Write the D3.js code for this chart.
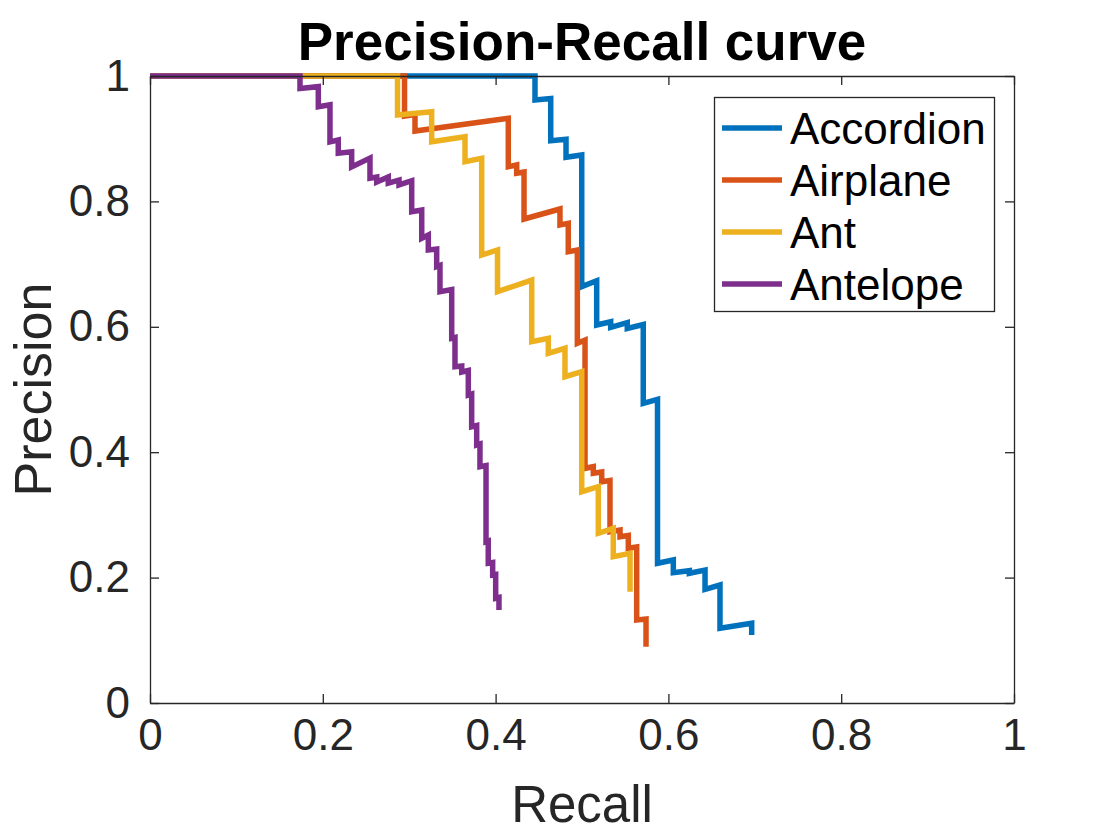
<!DOCTYPE html>
<html>
<head>
<meta charset="utf-8">
<script src="https://cdn.jsdelivr.net/npm/d3@7"></script>
<style>
    body { margin: 0; background: #fff; }
    text { font-family: "Liberation Sans", Arial, Helvetica, sans-serif; }
</style>
</head>
<body>
<div id="chart-area"></div>
<script>
// class names and line colours (matlab default order)
var classNames = ["Accordion", "Airplane", "Ant", "Antelope"];
var classColors = ["#0072BD", "#D95319", "#EDB120", "#7E2F8E"];

var xTicks = [0, 0.2, 0.4, 0.6, 0.8, 1];
var yTicks = [0, 0.2, 0.4, 0.6, 0.8, 1];

// recall / precision
var accordionRecall = [0, 0.4456, 0.4456, 0.4638, 0.4638, 0.4815, 0.4815, 0.4997, 0.4997, 0.5170, 0.5170, 0.5332, 0.5332, 0.5524, 0.5524, 0.5709, 0.5709, 0.5874, 0.5874, 0.6057, 0.6057, 0.6242, 0.6242, 0.6424, 0.6424, 0.6597, 0.6597, 0.6964, 0.6964];
var accordionPrecision = [1, 1, 0.9617, 0.9641, 0.8968, 0.8990, 0.8703, 0.8740, 0.6640, 0.6735, 0.6029, 0.6081, 0.5992, 0.6065, 0.5973, 0.6037, 0.4780, 0.4844, 0.2228, 0.2281, 0.2078, 0.2110, 0.2069, 0.2121, 0.1813, 0.1882, 0.1191, 0.1271, 0.1085];

var airplaneRecall = [0, 0.2946, 0.2946, 0.3067, 0.3067, 0.4147, 0.4147, 0.4244, 0.4244, 0.4329, 0.4329, 0.4745, 0.4745, 0.4841, 0.4841, 0.4946, 0.4946, 0.5035, 0.5035, 0.5131, 0.5131, 0.5228, 0.5228, 0.5324, 0.5324, 0.5440, 0.5440, 0.5536, 0.5536, 0.5633, 0.5633, 0.5741, 0.5741];
var airplanePrecision = [1, 1, 0.9362, 0.9386, 0.9123, 0.9325, 0.8553, 0.8581, 0.8448, 0.8469, 0.7719, 0.7879, 0.7624, 0.7651, 0.7198, 0.7225, 0.5737, 0.5789, 0.3743, 0.3769, 0.3664, 0.3684, 0.3529, 0.3549, 0.2732, 0.2759, 0.2652, 0.2671, 0.2467, 0.2488, 0.1324, 0.1340, 0.0898];

var antRecall = [0, 0.2865, 0.2865, 0.3260, 0.3260, 0.3646, 0.3646, 0.3839, 0.3839, 0.4022, 0.4022, 0.4418, 0.4418, 0.4610, 0.4610, 0.4803, 0.4803, 0.4997, 0.4997, 0.5189, 0.5189, 0.5362, 0.5362, 0.5556, 0.5556];
var antPrecision = [1, 1, 0.9378, 0.9431, 0.8952, 0.9032, 0.8633, 0.8687, 0.7145, 0.7225, 0.6560, 0.6746, 0.5762, 0.5817, 0.5577, 0.5657, 0.5204, 0.5284, 0.3370, 0.3450, 0.2707, 0.2786, 0.2333, 0.2388, 0.1775];

var antelopeRecall = [0, 0.1736, 0.1736, 0.1948, 0.1948, 0.2083, 0.2083, 0.2179, 0.2179, 0.2334, 0.2334, 0.2546, 0.2546, 0.2624, 0.2624, 0.2758, 0.2758, 0.2882, 0.2882, 0.3029, 0.3029, 0.3145, 0.3145, 0.3221, 0.3221, 0.3318, 0.3318, 0.3356, 0.3356, 0.3492, 0.3492, 0.3530, 0.3530, 0.3608, 0.3608, 0.3684, 0.3684, 0.3723, 0.3723, 0.3781, 0.3781, 0.3819, 0.3819, 0.3889, 0.3889, 0.3915, 0.3915, 0.3966, 0.3966, 0.4001, 0.4001, 0.4039, 0.4039];
var antelopePrecision = [1, 1, 0.9800, 0.9830, 0.9510, 0.9540, 0.8950, 0.8980, 0.8770, 0.8790, 0.8550, 0.8690, 0.8370, 0.8389, 0.8309, 0.8389, 0.8293, 0.8341, 0.8262, 0.8330, 0.7836, 0.7863, 0.7411, 0.7464, 0.7225, 0.7241, 0.6959, 0.6978, 0.6560, 0.6595, 0.5817, 0.5829, 0.5364, 0.5375, 0.5279, 0.5303, 0.4912, 0.4928, 0.4407, 0.4426, 0.4115, 0.4131, 0.3769, 0.3788, 0.2573, 0.2584, 0.2228, 0.2241, 0.2041, 0.2049, 0.1670, 0.1683, 0.1483];

var recallLists = [accordionRecall, airplaneRecall, antRecall, antelopeRecall];
var precisionLists = [accordionPrecision, airplanePrecision, antPrecision, antelopePrecision];

// build series table from the arrays
var series = classNames.map(function (name, i) {
    return {
        name: name,
        color: classColors[i],
        points: recallLists[i].map(function (r, j) {
            return { recall: r, precision: precisionLists[i][j] };
        })
    };
});

var margin = { left: 150, right: 106, top: 76, bottom: 137 };
var width = 1120 - margin.left - margin.right;
var height = 840 - margin.top - margin.bottom;
var axisColor = "#262626";

var svg = d3.select("#chart-area").append("svg")
    .attr("width", 1120)
    .attr("height", 840);

var group = svg.append("g")
    .attr("transform", "translate(" + margin.left + "," + margin.top + ")");

var x = d3.scaleLinear().domain([0, 1]).range([0, width]);
var y = d3.scaleLinear().domain([0, 1]).range([height, 0]);

var line = d3.line()
    .x(function (d) { return x(d.recall); })
    .y(function (d) { return y(d.precision); });

// curves (no clipping, the thick top line sits on the box edge like matlab)
group.append("g")
    .selectAll("path")
    .data(series)
    .enter()
    .append("path")
    .attr("d", function (d) { return line(d.points); })
    .attr("fill", "none")
    .attr("stroke", function (d) { return d.color; })
    .attr("stroke-width", 5.5)
    .attr("stroke-linejoin", "miter");

// axes, ticks inside, box on
var tickLen = 9;
var xAxisCall = d3.axisBottom(x).tickValues(xTicks).tickSizeInner(-tickLen).tickSizeOuter(0).tickPadding(16)
    .tickFormat(function (d) { return d3.format("")(d); });
var yAxisCall = d3.axisLeft(y).tickValues(yTicks).tickSizeInner(-tickLen).tickSizeOuter(0).tickPadding(20)
    .tickFormat(function (d) { return d3.format("")(d); });
var xTopCall = d3.axisTop(x).tickValues(xTicks).tickSizeInner(-tickLen).tickSizeOuter(0).tickFormat("");
var yRightCall = d3.axisRight(y).tickValues(yTicks).tickSizeInner(-tickLen).tickSizeOuter(0).tickFormat("");

var xAxisG = group.append("g")
    .attr("class", "x-axis")
    .attr("transform", "translate(0," + height + ")")
    .call(xAxisCall);
var yAxisG = group.append("g")
    .attr("class", "y-axis")
    .call(yAxisCall);
var topG = group.append("g").call(xTopCall);
var rightG = group.append("g").attr("transform", "translate(" + width + ",0)").call(yRightCall);

[xAxisG, yAxisG, topG, rightG].forEach(function (g) {
    g.select(".domain").attr("stroke", axisColor).attr("stroke-width", 1.3);
    g.selectAll(".tick line").attr("stroke", axisColor).attr("stroke-width", 1.3);
    g.selectAll(".tick text")
        .attr("fill", axisColor)
        .attr("font-size", "44px")
        .attr("font-family", "Liberation Sans, Arial, sans-serif");
});
xAxisG.selectAll(".tick text").attr("dy", "0.71em");

// title and labels
svg.append("text")
    .attr("x", margin.left + width / 2)
    .attr("y", 60)
    .attr("text-anchor", "middle")
    .attr("font-size", "53px")
    .attr("font-weight", "bold")
    .attr("fill", "#000")
    .text("Precision-Recall curve");

svg.append("text")
    .attr("x", margin.left + width / 2)
    .attr("y", 822)
    .attr("text-anchor", "middle")
    .attr("font-size", "51px")
    .attr("fill", axisColor)
    .text("Recall");

svg.append("text")
    .attr("transform", "translate(51," + (margin.top + height / 2) + ") rotate(-90)")
    .attr("text-anchor", "middle")
    .attr("font-size", "52px")
    .attr("fill", axisColor)
    .text("Precision");

// legend
var legend = svg.append("g").attr("class", "legend");
legend.append("rect")
    .attr("x", 714.5)
    .attr("y", 97.5)
    .attr("width", 280)
    .attr("height", 214)
    .attr("fill", "#fff")
    .attr("stroke", axisColor)
    .attr("stroke-width", 1.3);

var rows = legend.selectAll("g.row")
    .data(series)
    .enter()
    .append("g")
    .attr("class", "row")
    .attr("transform", function (d, i) { return "translate(0," + (128 + i * 52) + ")"; });

rows.append("line")
    .attr("x1", 722)
    .attr("x2", 782)
    .attr("y1", 0)
    .attr("y2", 0)
    .attr("stroke", function (d) { return d.color; })
    .attr("stroke-width", 5.5);

rows.append("text")
    .attr("x", 790)
    .attr("y", 0)
    .attr("dy", "0.36em")
    .attr("font-size", "44px")
    .attr("fill", "#000")
    .text(function (d) { return d.name; });
</script>
</body>
</html>
